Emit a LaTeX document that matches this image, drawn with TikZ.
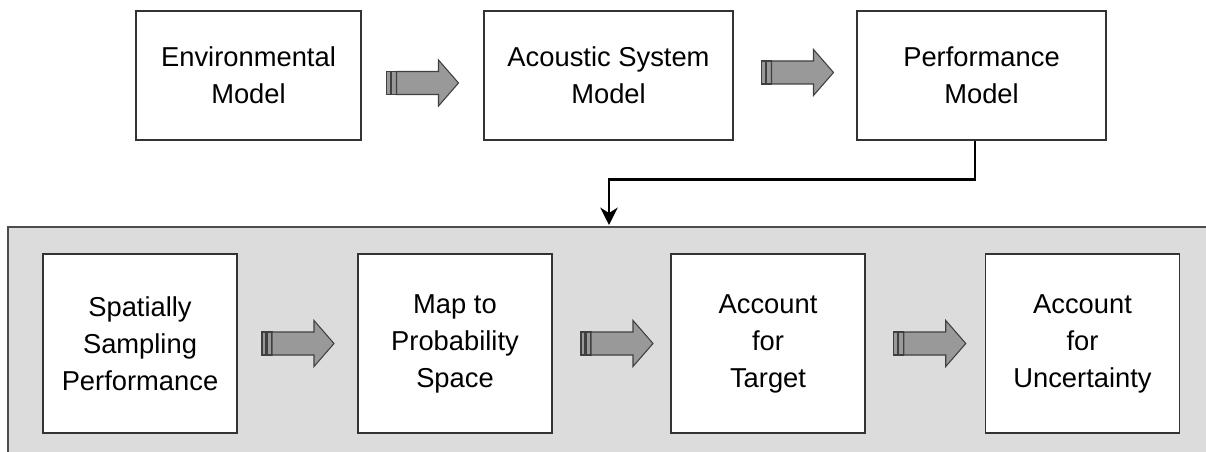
\documentclass[tikz,border=0pt]{standalone}
\usepackage{fontspec}
\setmainfont{Liberation Sans}
\usetikzlibrary{calc,arrows.meta}

\definecolor{panelgray}{HTML}{DCDCDC}
\definecolor{rimgray}{HTML}{4D4D4D}
\definecolor{arrowgray}{HTML}{999999}

\tikzset{
    stage/.style={draw=black!80, line width=0.8pt, fill=white, align=center,
        inner sep=0pt, font=\fontsize{20.5}{27.75}\selectfont},
    topstage/.style={stage, minimum height=96.75pt},
    lowstage/.style={stage, minimum width=145.5pt, minimum height=134.25pt},
    flow/.style={draw=black!75, fill=arrowgray, line width=0.8pt},
}

% block arrow between two stages, #1 = its centre
\newcommand{\flowarrow}[1]{%
    \begin{scope}[shift={#1}]
        \filldraw[flow] (-36,-11.5) rectangle (-32,11.5);
        \filldraw[flow] (-31,-11.5) rectangle (-26,11.5);
        \filldraw[flow] (-26,-11.5) -- (16,-11.5) -- (16,-23) -- (36,0)
            -- (16,23) -- (16,11.5) -- (-26,11.5) -- cycle;
    \end{scope}}

\begin{document}
\begin{tikzpicture}[x=0.75pt, y=-0.75pt]
            \useasboundingbox (0,0) rectangle (1206,452);

            % grey panel of the lower row
            \fill[panelgray] (8,227) rectangle (1206,452);
            \draw[rimgray, line width=1.5pt] (1206,227) -- (8,227) -- (8,452);
            \coordinate (drop) at (609,225);

            \node[topstage, minimum width=168.75pt] (env) at (248.5,75.5) {Environmental\\Model};
            \node[topstage, minimum width=186.75pt] (acou) at (608.5,75.5) {Acoustic System\\Model};
            \node[topstage, minimum width=186.75pt] (perf) at (981.5,75.5) {Performance\\Model};

            \node[lowstage] (samp) at (140,343.5) {Spatially\\Sampling\\Performance};
            \node[lowstage] (prob) at (455,343.5) {Map to\\Probability\\Space};
            \node[lowstage] (targ) at (768,343.5) {Account\\for\\Target};
            \node[lowstage] (unc) at (1082.5,343.5) {Account\\for\\Uncertainty};

            \foreach \a/\b/\dx/\dy in {env/acou/0/7.5, acou/perf/2.5/-3,
                samp/prob/0.5/0, prob/targ/5.5/0, targ/unc/4.5/0}
                {\flowarrow{($(\a.east)!0.5!(\b.west)+(\dx,\dy)$)}}

            \draw[line width=2pt, -{Stealth[length=13pt, width=13pt, inset=4pt]}]
                ($(perf.south)+(-6.5,0)$) -- ++(0,39) -| (drop);
\end{tikzpicture}
\end{document}
